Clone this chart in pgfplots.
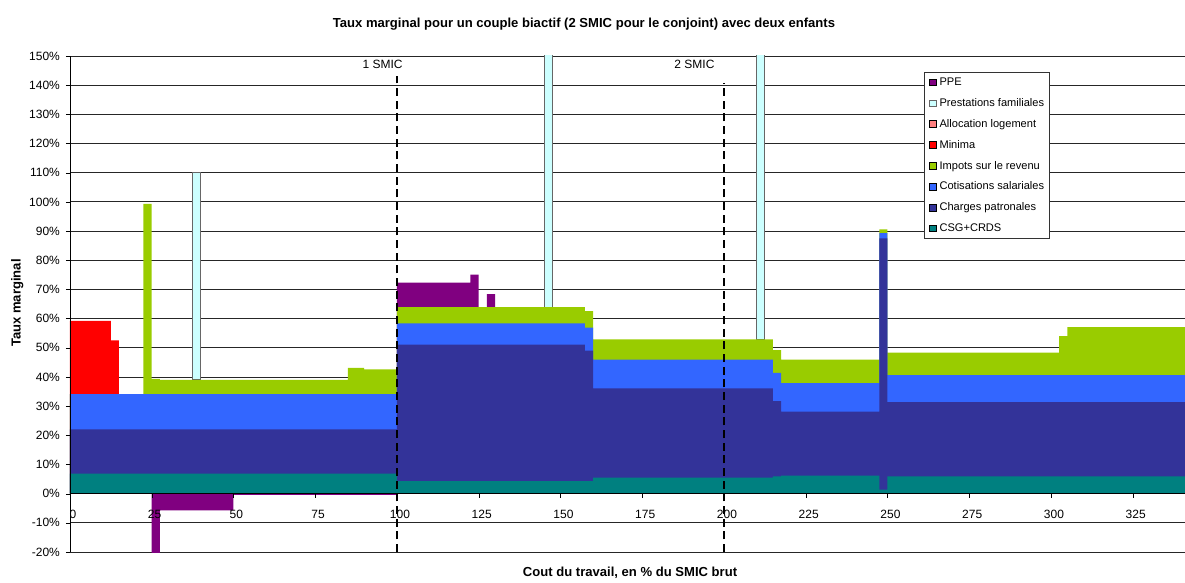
\documentclass[border=0pt]{standalone}
\usepackage{pgfplots}
\pgfplotsset{compat=1.18}
\usepackage{pgfplotstable}
\usepackage{fontspec}
\setmainfont{Liberation Sans}

\pgfplotsset{
  /pgfplots/layers/ticksontop/.define layer set={
    axis background,axis grid,pre main,main,axis ticks,axis lines,axis tick labels,axis descriptions,axis foreground
  }{/pgfplots/layers/standard},
}

\definecolor{cPPE}{RGB}{128,0,128}
\definecolor{cPF}{RGB}{204,255,255}
\definecolor{cAL}{RGB}{255,128,128}
\definecolor{cMin}{RGB}{255,0,0}
\definecolor{cIR}{RGB}{153,204,0}
\definecolor{cSal}{RGB}{51,102,255}
\definecolor{cPat}{RGB}{51,51,153}
\definecolor{cCSG}{RGB}{0,128,128}

% Step values (each row holds until the next x), in % 
\pgfplotstableread{
x     csg  pat  sal  ir   mi   ppe
0     6.9  15.1 12.1 0    25.1 0
12.5  6.9  15.1 12.1 0    18.4 0
15    6.9  15.1 12.1 0    0    0
22.5  6.9  15.1 12.1 65.2 0    0
25    6.9  15.1 12.1 5.2  0    -20.5
27.5  6.9  15.1 12.1 4.9  0    -5.7
50    6.9  15.1 12.1 4.9  0    -0.4
85    6.9  15.1 12.1 9.0  0    -0.4
90    6.9  15.1 12.1 8.5  0    -0.4
100   4.3  46.8 7.3  5.5  0    8.4
122.5 4.3  46.8 7.3  5.5  0    11.2
125   4.3  46.8 7.3  5.5  0    0
127.5 4.3  46.8 7.3  5.5  0    4.5
130   4.3  46.8 7.3  5.5  0    0
157.5 4.3  44.7 7.9  5.7  0    0
160   5.5  30.6 9.8  7.0  0    0
215   5.9  25.8 9.7  7.8  0    0
217.5 6.2  21.9 9.8  8.0  0    0
247.5 1.4  86.1 1.8  1.3  0    0
250   5.9  25.5 9.2  7.7  0    0
302.5 5.9  25.5 9.2  13.4 0    0
305   5.9  25.5 9.2  16.5 0    0
341   5.9  25.5 9.2  16.5 0    0
}\datatable

\begin{document}
\begin{tikzpicture}
\begin{axis}[
  set layers=ticksontop,
  scale only axis,
  width=836.3pt, height=372pt,
  xmin=0, xmax=341, ymin=-20, ymax=150,
  axis x line=middle, axis y line=left,
  axis line style={-, black},
  hide obscured x ticks=false, hide obscured y ticks=false,
  xtick={0,25,...,325},
  ytick={-20,-10,...,150},
  xticklabel={\pgfmathparse{int(round(\tick))}\pgfmathresult},
  yticklabel={\pgfmathparse{int(round(\tick))}\pgfmathresult\%},
  tick label style={font=\fontsize{9}{10.8}\selectfont},
  xticklabel style={anchor=center, yshift=-12.9pt, xshift=2.25pt},
  yticklabel style={anchor=east, xshift=-1pt},
  tick align=outside, major tick length=3pt,
  tick style={black},
  ymajorgrids, major grid style={black!85, line width=0.6pt},
  title={Taux marginal pour un couple biactif (2 SMIC pour le conjoint) avec deux enfants},
  title style={font=\bfseries\fontsize{9.8}{11.8}\selectfont, at={(axis description cs:0.4610,1.0487)}, anchor=center, yshift=0pt},
  xlabel={Cout du travail, en \% du SMIC brut},
  xlabel style={font=\bfseries\fontsize{9.8}{11.8}\selectfont, at={(axis description cs:0.5023,-0.0423)}, anchor=center, yshift=0pt},
  ylabel={Taux marginal},
  ylabel style={font=\bfseries\fontsize{9.8}{11.8}\selectfont, at={(axis description cs:-0.0472,0.502)}, anchor=center, rotate=0},
  legend image code/.code={\draw[#1] (0pt,-2.5pt) rectangle (5pt,2.5pt);},
  legend cell align=left,
  legend style={at={(axis description cs:0.7659,0.9677)}, anchor=north west,
    draw=black!80, line width=0.6pt, fill=white,
    font=\fontsize{8.3}{10}\selectfont,
    inner xsep=3.5pt, inner ysep=2.85pt, row sep=6.35pt,
    nodes={inner sep=0.5pt, text height=6.5pt, text depth=1.8pt},
    /tikz/every odd column/.append style={column sep=1.8pt}},
]
% PPE (positive part, top of the stack)
\addplot[const plot, fill=cPPE, draw=none, restrict x to domain=100:130]
  table[x=x, y expr={\thisrow{csg}+\thisrow{pat}+\thisrow{sal}+\thisrow{ir}+\thisrow{mi}+max(\thisrow{ppe},0)}] {\datatable} \closedcycle;
\addlegendentry{PPE}
% Prestations familiales
\addplot[fill=cPF, draw=black!60, line width=0.6pt] coordinates {(37.5,39.0) (37.5,110) (40,110) (40,39.0)} -- cycle;
\addlegendentry{Prestations familiales}
\addplot[fill=cPF, draw=black!60, line width=0.6pt, forget plot] coordinates {(145,63.9) (145,160) (147.5,160) (147.5,63.9)} -- cycle;
\addplot[fill=cPF, draw=black!60, line width=0.6pt, forget plot] coordinates {(210,52.9) (210,160) (212.5,160) (212.5,52.9)} -- cycle;
% Allocation logement (zero throughout)
\addlegendimage{fill=cAL, draw=none}
\addlegendentry{Allocation logement}
% Minima
\addplot[const plot, fill=cMin, draw=none, restrict x to domain=0:15]
  table[x=x, y expr={\thisrow{csg}+\thisrow{pat}+\thisrow{sal}+\thisrow{ir}+\thisrow{mi}}] {\datatable} \closedcycle;
\addlegendentry{Minima}
% Impots
\addplot[const plot, fill=cIR, draw=none]
  table[x=x, y expr={\thisrow{csg}+\thisrow{pat}+\thisrow{sal}+\thisrow{ir}}] {\datatable} \closedcycle;
\addlegendentry{Impots sur le revenu}
% Cotisations salariales
\addplot[const plot, fill=cSal, draw=none]
  table[x=x, y expr={\thisrow{csg}+\thisrow{pat}+\thisrow{sal}}] {\datatable} \closedcycle;
\addlegendentry{Cotisations salariales}
% Charges patronales
\addplot[const plot, fill=cPat, draw=none]
  table[x=x, y expr={\thisrow{csg}+\thisrow{pat}}] {\datatable} \closedcycle;
\addlegendentry{Charges patronales}
% CSG+CRDS
\addplot[const plot, fill=cCSG, draw=none]
  table[x=x, y=csg] {\datatable} \closedcycle;
\addlegendentry{CSG+CRDS}
% PPE (negative part, below zero)
\addplot[const plot, fill=cPPE, draw=none, restrict x to domain=25:100, forget plot]
  table[x=x, y expr={min(\thisrow{ppe},0)}] {\datatable} \closedcycle;
% SMIC markers
\addplot[black, line width=1.5pt, dash pattern=on 6pt off 3.5pt, forget plot] coordinates {(100,-20) (100,143.3)};
\addplot[black, line width=1.5pt, dash pattern=on 6pt off 3.5pt, forget plot] coordinates {(200,-20) (200,140.8)};
\node[font=\fontsize{9}{10.8}\selectfont] at (axis cs:95.6,147) {1 SMIC};
\node[font=\fontsize{9}{10.8}\selectfont] at (axis cs:191,147.3) {2 SMIC};
\coordinate (sw) at (rel axis cs:0,0);
\coordinate (ne) at (rel axis cs:1,1);
\end{axis}
\pgfresetboundingbox
\path[use as bounding box] ([xshift=-52.43pt,yshift=-22.5pt]sw) rectangle ([yshift=42pt]ne);
\end{tikzpicture}
\end{document}
